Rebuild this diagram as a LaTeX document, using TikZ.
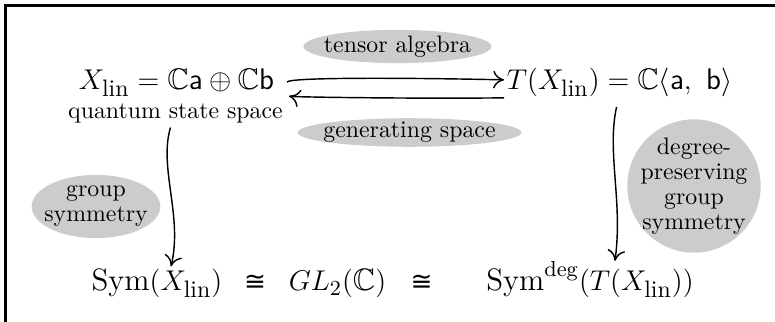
\documentclass[tikz,border=0pt]{standalone}
\usepackage{amsmath,amssymb}
\usepackage{fontspec}
\usepackage{tikz}
\usetikzlibrary{arrows.meta,positioning,calc,shapes.geometric}
\newfontfamily\isofont{DejaVu Sans}
\definecolor{inkblack}{HTML}{000000}
\definecolor{bubblegray}{HTML}{CCCCCC}
\newcommand{\linsub}{\mbox{\fontsize{10}{12}\selectfont\rmfamily lin}}

\begin{document}
\begin{tikzpicture}[
  x=0.42pt, y=-0.42pt,
  font=\normalsize,
  formula/.style={anchor=base, inner sep=1pt, font=\fontsize{12.5}{15}\selectfont},
  bigformula/.style={anchor=base, inner sep=1pt, font=\fontsize{13}{15}\selectfont},
  isorel/.style={anchor=base, inner sep=1pt, font=\isofont\fontsize{11}{13}\selectfont},
  caption/.style={anchor=base, inner sep=1pt},
  bubble/.style={
    ellipse,
    fill=bubblegray,
    inner sep=-3pt,
    align=center,
    font=\fontsize{10}{10.5}\selectfont
  },
  flow/.style={-{To[length=1.6mm,width=2.6mm]},draw=inkblack,line width=0.6pt}
]
  \useasboundingbox (0,0) rectangle (775,322);
  \clip (0,0) rectangle (775,322);
  \draw[draw=inkblack,line width=0.9pt] (5.5,5.5) rectangle (800,340);

  \node[formula] (xlin) at (176.5,90) {$X_{\linsub} = \mathbb{C}\mathsf{a} \oplus \mathbb{C}\mathsf{b}$};
  \node[caption] (qss) at (175.5,119) {quantum state space};
  \node[formula,anchor=base west] (txlin) at (504,90) {$T(X_{\linsub}) = \mathbb{C}\langle \mathsf{a},\ \mathsf{b}\rangle$};

  \node[bubble,minimum width=79pt,minimum height=14pt] (tensor) at (397.5,46.5) {tensor algebra};
  \node[bubble,minimum width=94pt,minimum height=12pt] (generating) at (409.5,132.5) {generating space};
  \node[bubble,inner sep=-2.6pt,minimum width=54pt,minimum height=26.5pt] (groupsym) at (96,206.5) {group\\symmetry};
  \node[bubble,circle,minimum size=56pt] (degsym) at (694,186) {degree-\\preserving\\group\\symmetry};

  \node[bigformula] (symx) at (157,291) {$\mathrm{Sym}(X_{\linsub})$};
  \node[isorel] (iso1) at (255,291) {≅};
  \node[bigformula] (gl) at (337.5,291) {$GL_2(\mathbb{C})$};
  \node[isorel] (iso2) at (421.5,291) {≅};
  \node[bigformula] (symdeg) at (590,291) {$\mathrm{Sym}^{\mathrm{deg}}(T(X_{\linsub}))$};

  \draw[flow] ($(xlin.east)+(10,-1)$) .. controls +(3,-5) and +(-90,-2) .. ($(txlin.west)+(0,-3)$);
  \draw[flow] ($(txlin.west)+(0,15)$) .. controls +(-90,1) and +(4,1) .. ($(xlin.east)+(12,13)$);
  \draw[flow] ($(qss.south)+(-5,1)$) .. controls +(-12,40) and +(12,-50) .. ($(symx.north)+(14,0)$);
  \draw[flow] ($(txlin.south)+(-3,7)$) .. controls +(-10,45) and +(8,-60) .. ($(symdeg.north)+(25,2)$);
\end{tikzpicture}
\end{document}
